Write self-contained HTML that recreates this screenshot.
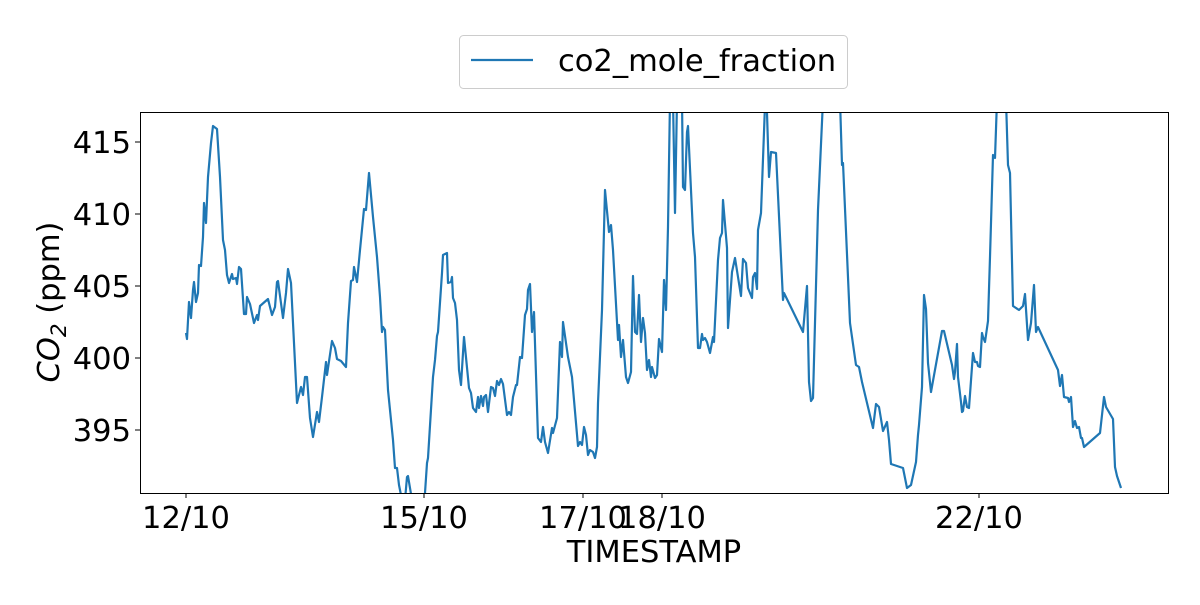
<!DOCTYPE html>
<html><head><meta charset="utf-8"><style>
html,body{margin:0;padding:0;background:#fff;}
svg text{font-family:"DejaVu Sans","Liberation Sans",sans-serif;fill:#000;}
</style></head><body>
<svg width="1200" height="600" viewBox="0 0 1200 600" xmlns="http://www.w3.org/2000/svg">
<rect width="1200" height="600" fill="#fff"/>
<defs><clipPath id="c"><rect x="140" y="112" width="1028" height="381"/></clipPath></defs>
<polyline clip-path="url(#c)" fill="none" stroke="#1f77b4" stroke-width="2.2" stroke-linejoin="round" points="
186,333 187,339 189,302 191,318 193,290 194,282 196,302 198,293 199,265 201,266 203,237 204,203 206,223 208,177 211,143 213,126 217,129 220,177 223,240 225,250 227,275 229,283 232,274 233,279 236,278 237,284 239,267 241,269 244,314 246,314 247,297 250,304 254,323 257,315 258,320 260,306 268,299 272,315 275,307 277,282 278,281 283,318 286,293 288,269 291,283 297,403 301,387 303,395 305,377 307,377 310,418 313,437 317,412 319,422 322,397 326,362 327,375 332,341 335,348 337,359 341,361 346,367 348,323 351,281 353,280 354,267 357,282 360,250 364,209 366,210 369,173 373,217 377,257 380,297 382,332 383,327 385,330 388,390 393,440 395,468 397,468 399,485 402,500 405,500 407,477 408,476 412,500 423,500 425,493 427,463 428,458 433,377 435,360 437,336 438,332 442,273 443,255 447,253 448,283 451,282 452,277 453,298 455,303 457,320 459,370 461,385 464,337 469,388 471,393 473,408 476,412 478,397 479,408 481,396 483,406 484,397 486,395 488,412 491,387 493,388 495,396 497,381 499,385 501,379 503,384 507,415 509,412 511,415 513,397 516,385 517,385 520,357 522,358 525,315 527,309 528,290 530,284 532,332 534,312 538,438 541,442 543,427 545,442 548,453 552,428 553,433 557,418 560,342 562,357 563,322 568,357 572,377 578,446 580,442 582,445 584,427 586,435 588,455 590,450 593,452 595,458 597,447 598,403 602,310 605,190 609,232 611,225 613,250 618,340 619,325 621,357 623,340 626,377 628,383 631,372 633,276 635,332 637,334 639,295 641,342 643,318 645,333 647,370 649,360 651,377 652,367 655,378 657,375 659,339 662,352 664,280 666,310 668,227 670,100 673,100 675,213 677,100 682,100 683,187 685,190 687,132 688,126 693,233 695,257 698,348 700,348 702,334 703,340 705,338 707,342 710,353 713,337 714,342 718,260 720,238 722,233 723,200 727,248 728,328 732,272 735,258 741,296 743,259 746,263 748,288 752,298 753,277 755,273 757,289 758,230 761,213 765,105 767,113 769,177 771,152 776,153 783,300 784,293 803,332 807,286 809,382 811,401 813,398 818,210 823,100 840,100 842,165 843,163 850,323 856,365 859,367 862,382 873,428 876,404 879,407 883,431 887,422 889,440 891,464 900,467 903,468 907,488 911,485 916,462 918,435 919,425 922,387 924,295 926,309 928,363 931,392 942,331 944,331 952,365 954,379 955,372 957,344 958,377 961,402 962,412 963,411 965,396 967,407 969,408 973,353 975,362 977,362 978,366 980,367 982,333 983,337 985,342 988,321 990,257 993,155 995,158 997,100 1006,100 1008,165 1010,173 1013,306 1019,310 1023,306 1025,294 1028,340 1031,323 1034,285 1036,332 1038,327 1058,370 1060,386 1062,375 1064,397 1068,398 1069,402 1071,397 1073,427 1075,421 1077,428 1079,427 1081,438 1082,438 1084,447 1100,433 1104,397 1106,407 1113,419 1115,467 1117,476 1121,488"/>
<rect x="140.5" y="112.5" width="1028" height="381" fill="none" stroke="#000" stroke-width="1"/>
<g stroke="#000" stroke-width="1">
<line x1="135" y1="142" x2="140" y2="142"/><line x1="135" y1="214" x2="140" y2="214"/><line x1="135" y1="286" x2="140" y2="286"/><line x1="135" y1="358" x2="140" y2="358"/><line x1="135" y1="430" x2="140" y2="430"/>
<line x1="186" y1="493" x2="186" y2="498"/><line x1="424" y1="493" x2="424" y2="498"/><line x1="583" y1="493" x2="583" y2="498"/><line x1="662" y1="493" x2="662" y2="498"/><line x1="979" y1="493" x2="979" y2="498"/>
</g>
<g font-size="30.5" text-anchor="end">
<text x="131" y="153">415</text><text x="131" y="225">410</text><text x="131" y="297">405</text><text x="131" y="369">400</text><text x="131" y="441">395</text>
</g>
<g font-size="30.5" text-anchor="middle">
<text x="186" y="528">12/10</text><text x="424" y="528">15/10</text><text x="583" y="528">17/10</text><text x="662" y="528">18/10</text><text x="979" y="528">22/10</text>
<text x="654" y="562">TIMESTAMP</text>
</g>
<text font-size="30.5" transform="translate(59,302) rotate(-90)" text-anchor="middle"><tspan font-style="italic">CO</tspan><tspan font-size="21.5" dy="7" font-style="italic">2</tspan><tspan dy="-7"> (ppm)</tspan></text>
<rect x="459.5" y="35.5" width="388" height="53" rx="4" fill="#fff" stroke="#ccc" stroke-width="1"/>
<line x1="471" y1="60" x2="533" y2="60" stroke="#1f77b4" stroke-width="2.2"/>
<text x="558" y="71" font-size="30.5">co2_mole_fraction</text>
</svg>
</body></html>
